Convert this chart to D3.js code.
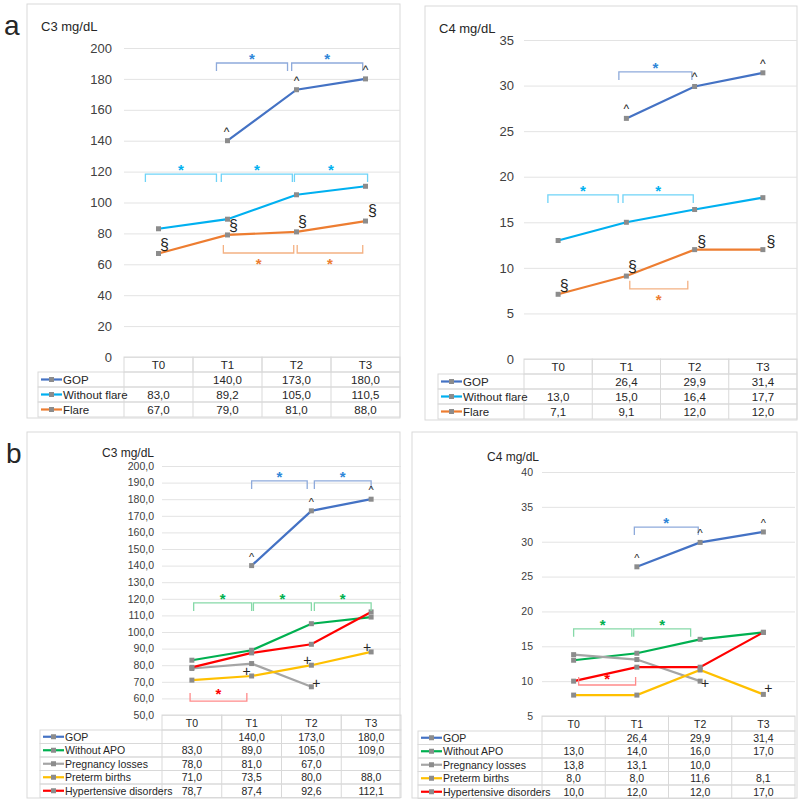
<!DOCTYPE html>
<html>
<head>
<meta charset="utf-8">
<script src="https://cdn.jsdelivr.net/npm/d3@7"></script>
<style>body{margin:0;background:#fff}</style>
</head>
<body>
<svg id="chart" width="800" height="800"></svg>
<script>
// time points
var times = ["T0", "T1", "T2", "T3"];

// panel a: C3
var aC3Gop = [null, 140, 173, 180];
var aC3NoFlare = [83, 89.2, 105, 110.5];
var aC3Flare = [67, 79, 81, 88];
// panel a: C4
var aC4Gop = [null, 26.4, 29.9, 31.4];
var aC4NoFlare = [13, 15, 16.4, 17.7];
var aC4Flare = [7.1, 9.1, 12, 12];
// panel b: C3
var bC3Gop = [null, 140, 173, 180];
var bC3NoApo = [83, 89, 105, 109];
var bC3Loss = [78, 81, 67, null];
var bC3Preterm = [71, 73.5, 80, 88];
var bC3Hyper = [78.7, 87.4, 92.6, 112.1];
// panel b: C4
var bC4Gop = [null, 26.4, 29.9, 31.4];
var bC4NoApo = [13, 14, 16, 17];
var bC4Loss = [13.8, 13.1, 10, null];
var bC4Preterm = [8, 8, 11.6, 8.1];
var bC4Hyper = [10, 12, 12, 17];

// y ticks
var aC3Ticks = d3.range(0, 201, 20);
var aC4Ticks = d3.range(0, 36, 5);
var bC3Ticks = d3.range(50, 201, 10);
var bC4Ticks = d3.range(5, 41, 5);

var svg = d3.select("#chart");
var FONT = "Liberation Sans, Arial, sans-serif";
var comma = function(v) { return d3.format(".1f")(v).replace(".", ","); };

var col = {gop: "#4472c4", cyan: "#00b0f0", orange: "#ed7d31", green: "#00b050",
           grey: "#a5a5a5", yellow: "#ffc000", red: "#ff0000"};
var light = {gop: "#8eaadb", cyan: "#6fd3f7", orange: "#f4b183", green: "#86d9a8", red: "#ff8a8a"};
var star = {gop: "#2e86d8", cyan: "#00b0f0", orange: "#ed7d31", green: "#00b050", red: "#ff0000"};

function drawPanel(p) {
  var g = svg.append("g");
  //frame
  g.append("rect")
    .attr("x", p.frame[0]).attr("y", p.frame[1])
    .attr("width", p.frame[2]).attr("height", p.frame[3])
    .attr("fill", "none").attr("stroke", "#d9d9d9");
  g.append("text")
    .attr("x", p.titleX).attr("y", p.titleY)
    .style("font-family", FONT).style("font-size", p.titleSize + "px")
    .attr("fill", "#262626")
    .text(p.title);

  var x = d3.scaleBand().domain(times).range([p.x0, p.x1]);
  var cx = function(i) { return x(times[i]) + x.bandwidth() / 2; };
  var xi = d3.scaleLinear().domain([0, 3]).range([cx(0), cx(3)]);
  var y = d3.scaleLinear().domain(p.yDomain).range([p.yBottom, p.yTop]);

  //grid + y axis
  var ax = g.append("g")
    .attr("transform", "translate(" + p.x0 + ",0)")
    .call(d3.axisLeft(y).tickValues(p.ticks).tickFormat(p.tickFmt)
      .tickSizeInner(-(p.x1 - p.x0)).tickSizeOuter(0).tickPadding(p.tickPad));
  ax.select(".domain").remove();
  ax.selectAll(".tick line").attr("stroke", "#e3e3e3");
  ax.selectAll(".tick text")
    .style("font-family", FONT).style("font-size", p.tickSize + "px")
    .attr("fill", "#404040");

  //lines
  var line = d3.line()
    .defined(function(d) { return d != null; })
    .x(function(d, i) { return cx(i); })
    .y(function(d) { return y(d); });
  p.series.forEach(function(s) {
    g.append("path").datum(s.values)
      .attr("d", line).attr("fill", "none")
      .attr("stroke", s.color).attr("stroke-width", 2.2);
  });
  p.series.forEach(function(s) {
    g.selectAll(null)
      .data(s.values.map(function(v, i) { return {v: v, i: i}; }).filter(function(d) { return d.v != null; }))
      .enter().append("rect")
      .attr("x", function(d) { return cx(d.i) - 2.5; })
      .attr("y", function(d) { return y(d.v) - 2.5; })
      .attr("width", 5).attr("height", 5)
      .attr("fill", "#8c8c8c");
  });

  //significance brackets
  p.brackets.forEach(function(b) {
    var xa = xi(b[0]), xb = xi(b[1]), yy = y(b[2]), leg = b[3] === "down" ? 8 : -8;
    g.append("path")
      .attr("d", "M" + xa + "," + (yy + leg) + "V" + yy + "H" + xb + "V" + (yy + leg))
      .attr("fill", "none").attr("stroke", light[b[4]]).attr("stroke-width", 1.3);
    var ay = b[3] === "down" ? yy - 8 : yy + (b[5] || 7);
    g.append("text")
      .attr("x", (xa + xb) / 2).attr("y", ay + 9)
      .attr("text-anchor", "middle")
      .style("font-family", FONT).style("font-size", "15px").style("font-weight", "bold")
      .attr("fill", star[b[4]])
      .text("*");
  });

  //symbols on points
  p.symbols.forEach(function(s) {
    var v = s[0][s[1]];
    g.append("text")
      .attr("x", cx(s[1]) + s[3]).attr("y", y(v) + s[4])
      .attr("text-anchor", "middle").attr("dominant-baseline", "central")
      .style("font-family", FONT).style("font-size", s[5] + "px")
      .attr("fill", "#262626")
      .text(s[2]);
  });

  //data table
  var t = g.append("g").style("font-family", FONT).style("font-size", p.tableSize + "px");
  times.forEach(function(tm) {
    t.append("rect")
      .attr("x", x(tm)).attr("y", p.yBottom)
      .attr("width", x.bandwidth()).attr("height", p.headH)
      .attr("fill", "none").attr("stroke", "#d9d9d9");
    t.append("text")
      .attr("x", x(tm) + x.bandwidth() / 2).attr("y", p.yBottom + p.headH / 2)
      .attr("text-anchor", "middle").attr("dominant-baseline", "central")
      .attr("fill", "#262626").text(tm);
  });
  p.series.forEach(function(s, r) {
    var ry = p.yBottom + p.headH + r * p.rowH;
    t.append("rect")
      .attr("x", p.tableLeft).attr("y", ry)
      .attr("width", p.x1 - p.tableLeft).attr("height", p.rowH)
      .attr("fill", "none").attr("stroke", "#d9d9d9");
    times.forEach(function(tm) {
      t.append("line")
        .attr("x1", x(tm)).attr("x2", x(tm))
        .attr("y1", ry).attr("y2", ry + p.rowH)
        .attr("stroke", "#d9d9d9");
    });
    var my = ry + p.rowH / 2;
    t.append("line")
      .attr("x1", p.tableLeft + 3).attr("x2", p.tableLeft + 24)
      .attr("y1", my).attr("y2", my)
      .attr("stroke", s.color).attr("stroke-width", 2.2);
    t.append("rect")
      .attr("x", p.tableLeft + 11).attr("y", my - 2.5)
      .attr("width", 5).attr("height", 5).attr("fill", "#8c8c8c");
    t.append("text")
      .attr("x", p.tableLeft + 25).attr("y", my)
      .attr("dominant-baseline", "central").attr("fill", "#262626")
      .text(s.name);
    s.values.forEach(function(v, i) {
      if (v == null) return;
      t.append("text")
        .attr("x", cx(i)).attr("y", my)
        .attr("text-anchor", "middle").attr("dominant-baseline", "central")
        .attr("fill", "#262626").text(comma(v));
    });
  });
}

//Panel a, C3
drawPanel({
  frame: [27, 4, 373, 414], title: "C3 mg/dL", titleX: 41, titleY: 31, titleSize: 13,
  x0: 124, x1: 400, yTop: 48, yBottom: 357, yDomain: [0, 200],
  ticks: aC3Ticks, tickFmt: d3.format("d"), tickSize: 13, tickPad: 12,
  tableLeft: 38, headH: 15, rowH: 15, tableSize: 11.5,
  series: [
    {name: "GOP", values: aC3Gop, color: col.gop},
    {name: "Without flare", values: aC3NoFlare, color: col.cyan},
    {name: "Flare", values: aC3Flare, color: col.orange}
  ],
  brackets: [
    [0.84, 1.87, 190.3, "down", "gop"], [1.93, 2.96, 190.3, "down", "gop"],
    [-0.19, 0.84, 118.4, "down", "cyan"], [0.91, 1.94, 118.4, "down", "cyan"], [1.97, 3.03, 118.4, "down", "cyan"],
    [0.94, 1.96, 67.3, "up", "orange"], [2.01, 2.96, 67.3, "up", "orange"]
  ],
  symbols: [
    [aC3Gop, 1, "^", -1, -9, 12], [aC3Gop, 2, "^", 0, -9, 12], [aC3Gop, 3, "^", 0, -9, 12],
    [aC3Flare, 0, "§", 6, -9, 16], [aC3Flare, 1, "§", 6, -9, 16], [aC3Flare, 2, "§", 6, -10, 16], [aC3Flare, 3, "§", 7, -11, 16]
  ]
});

//Panel a, C4
drawPanel({
  frame: [425, 6, 372, 414], title: "C4 mg/dL", titleX: 439, titleY: 33, titleSize: 13,
  x0: 524, x1: 797, yTop: 40, yBottom: 359, yDomain: [0, 35],
  ticks: aC4Ticks, tickFmt: d3.format("d"), tickSize: 13, tickPad: 10,
  tableLeft: 438, headH: 15, rowH: 15, tableSize: 11.5,
  series: [
    {name: "GOP", values: aC4Gop, color: col.gop},
    {name: "Without flare", values: aC4NoFlare, color: col.cyan},
    {name: "Flare", values: aC4Flare, color: col.orange}
  ],
  brackets: [
    [0.89, 1.96, 31.5, "down", "gop"],
    [-0.15, 0.88, 18.0, "down", "cyan"], [0.95, 1.98, 18.0, "down", "cyan"],
    [1.05, 1.9, 7.7, "up", "orange"]
  ],
  symbols: [
    [aC4Gop, 1, "^", 0, -9, 12], [aC4Gop, 2, "^", 0, -9, 12], [aC4Gop, 3, "^", 0, -9, 12],
    [aC4Flare, 0, "§", 6, -9, 16], [aC4Flare, 1, "§", 6, -10, 16], [aC4Flare, 2, "§", 7, -8, 16], [aC4Flare, 3, "§", 8, -8, 16]
  ]
});

//Panel b, C3
drawPanel({
  frame: [27, 432, 373, 366], title: "C3 mg/dL", titleX: 102, titleY: 457, titleSize: 12,
  x0: 162, x1: 401, yTop: 466, yBottom: 715, yDomain: [50, 200],
  ticks: bC3Ticks, tickFmt: comma, tickSize: 10.5, tickPad: 8,
  tableLeft: 40, headH: 15, rowH: 13.5, tableSize: 10.5,
  series: [
    {name: "GOP", values: bC3Gop, color: col.gop},
    {name: "Without APO", values: bC3NoApo, color: col.green},
    {name: "Pregnancy losses", values: bC3Loss, color: col.grey},
    {name: "Preterm births", values: bC3Preterm, color: col.yellow},
    {name: "Hypertensive disorders", values: bC3Hyper, color: col.red}
  ],
  brackets: [
    [1.0, 1.93, 191, "down", "gop"], [2.05, 3.0, 191, "down", "gop"],
    [0.03, 1.0, 117.5, "down", "green"], [1.03, 2.0, 117.5, "down", "green"], [2.05, 3.0, 117.5, "down", "green"],
    [-0.03, 0.92, 58.4, "up", "red", -11]
  ],
  symbols: [
    [bC3Gop, 1, "^", 0, -9, 11], [bC3Gop, 2, "^", 0, -9, 11], [bC3Gop, 3, "^", 0, -9, 11],
    [bC3Preterm, 1, "+", -5, -5, 14], [bC3Preterm, 2, "+", -4, -5, 14],
    [bC3Loss, 2, "+", 5, -4, 14], [bC3Preterm, 3, "+", -4, -5, 14]
  ]
});

//Panel b, C4
drawPanel({
  frame: [412, 432, 385, 366], title: "C4 mg/dL", titleX: 487, titleY: 461, titleSize: 12,
  x0: 542, x1: 795, yTop: 472, yBottom: 716, yDomain: [5, 40],
  ticks: bC4Ticks, tickFmt: d3.format("d"), tickSize: 10.5, tickPad: 9,
  tableLeft: 418, headH: 15, rowH: 13.5, tableSize: 10.5,
  series: [
    {name: "GOP", values: bC4Gop, color: col.gop},
    {name: "Without APO", values: bC4NoApo, color: col.green},
    {name: "Pregnancy losses", values: bC4Loss, color: col.grey},
    {name: "Preterm births", values: bC4Preterm, color: col.yellow},
    {name: "Hypertensive disorders", values: bC4Hyper, color: col.red}
  ],
  brackets: [
    [0.96, 1.97, 32.1, "down", "gop"],
    [0.0, 0.92, 17.5, "down", "green"], [0.95, 1.85, 17.5, "down", "green"],
    [0.08, 0.98, 9.45, "up", "red", -10]
  ],
  symbols: [
    [bC4Gop, 1, "^", 0, -9, 11], [bC4Gop, 2, "^", 0, -9, 11], [bC4Gop, 3, "^", 0, -9, 11],
    [bC4Loss, 2, "+", 5, 2, 14], [bC4Preterm, 3, "+", 5, -6, 14]
  ]
});

//panel letters
svg.append("text").attr("x", 4).attr("y", 35)
  .style("font-family", FONT).style("font-size", "28px").attr("fill", "#262626").text("a");
svg.append("text").attr("x", 6).attr("y", 463)
  .style("font-family", FONT).style("font-size", "28px").attr("fill", "#262626").text("b");
</script>
</body>
</html>
